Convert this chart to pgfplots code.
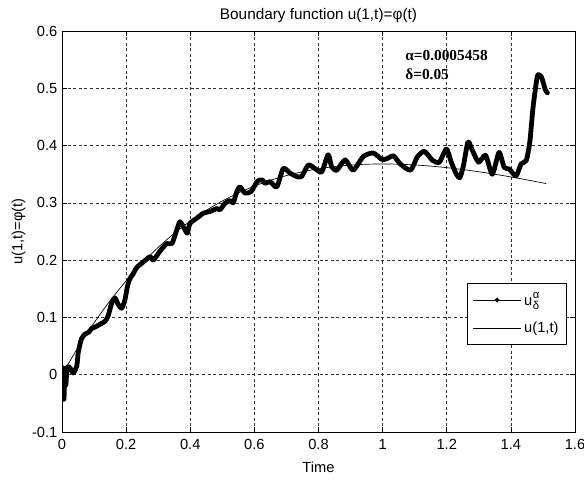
\documentclass[border=0pt]{standalone}
\usepackage{fontspec}
\setmainfont{Liberation Sans}
\newfontfamily\serifb{Liberation Serif}
\usepackage{pgfplots}
\pgfplotsset{compat=1.18}

\begin{document}
\begin{tikzpicture}
\begin{axis}[
  name=ax,
  scale only axis,
  width=384.75pt, height=300.75pt,
  xmin=0, xmax=1.6, ymin=-0.1, ymax=0.6,
  xtick={0,0.2,...,1.6}, ytick={-0.1,0,...,0.6},
  xticklabels={0,0.2,0.4,0.6,0.8,1,1.2,1.4,1.6},
  yticklabels={-0.1,0,0.1,0.2,0.3,0.4,0.5,0.6},
  tick align=inside, tick pos=both, major tick length=4pt,
  grid=major,
  major grid style={black!80, line width=0.5pt, dash pattern=on 2.2pt off 2pt},
  axis line style={line width=0.6pt},
  tick style={line width=0.5pt, black},
  every tick label/.append style={font=\fontsize{11}{13}\selectfont},
  xticklabel style={yshift=-2pt},
  /pgf/number format/assume math mode=true,
  title={Boundary function u(1,t)=φ(t)},
  title style={font=\fontsize{11.5}{13}\selectfont, yshift=-3pt},
  xlabel={Time}, ylabel={u(1,t)=φ(t)},
  label style={font=\fontsize{11}{13}\selectfont},
  xlabel style={yshift=-2pt},
  ylabel style={yshift=-2pt},
  legend style={at={(0.984,0.3716)}, anchor=north east, draw=black, line width=0.5pt,
    font=\fontsize{11}{13}\selectfont, row sep=7pt, inner xsep=4pt, inner ysep=5pt},
  legend cell align=left,
  legend image code/.code={\draw[#1] (0pt,0pt) -- (36pt,0pt);},
]
\addlegendimage{black, line width=0.6pt, legend image code/.code={\draw[black, line width=0.6pt] (0pt,0pt) -- (36pt,0pt); \fill[black] (18pt,0pt) circle (1.4pt);}}
\addlegendentry{u\kern0.3pt\rlap{\raisebox{0.85ex}{\fontsize{8.5}{8}\selectfont α}}\raisebox{-0.55ex}{\fontsize{8.5}{8}\selectfont δ}}
\addlegendimage{black, line width=0.5pt}
\addlegendentry{u(1,t)}
\addplot[black, line width=3.6pt, line join=round, line cap=round, smooth, tension=0.4, forget plot]
coordinates {
(0.003,0.012) (0.006,-0.043) (0.009,0.008) (0.012,-0.018) (0.016,0.013)
(0.025,0.012) (0.035,0.003) (0.046,0.015) (0.051,0.040) (0.061,0.063)
(0.072,0.071) (0.083,0.074) (0.093,0.081) (0.103,0.083) (0.118,0.088)
(0.134,0.093) (0.144,0.103) (0.155,0.125) (0.165,0.134) (0.176,0.122)
(0.186,0.116) (0.196,0.130) (0.204,0.154) (0.212,0.168) (0.222,0.176)
(0.233,0.187) (0.254,0.197) (0.2745,0.206) (0.285,0.200) (0.306,0.216)
(0.327,0.229) (0.343,0.229) (0.358,0.253) (0.368,0.267) (0.3805,0.256)
(0.391,0.247) (0.399,0.264) (0.420,0.273) (0.441,0.282) (0.462,0.285)
(0.4825,0.290) (0.493,0.288) (0.508,0.299) (0.524,0.304) (0.534,0.300)
(0.545,0.319) (0.555,0.328) (0.571,0.317) (0.590,0.320) (0.610,0.338)
(0.625,0.340) (0.633,0.334) (0.649,0.337) (0.670,0.328) (0.690,0.360)
(0.711,0.352) (0.732,0.346) (0.7475,0.346) (0.768,0.366) (0.789,0.360)
(0.810,0.354) (0.830,0.384) (0.841,0.363) (0.857,0.357) (0.883,0.375)
(0.908,0.357) (0.940,0.381) (0.971,0.387) (0.997,0.376) (1.013,0.377)
(1.034,0.382) (1.055,0.368) (1.087,0.357) (1.108,0.380) (1.130,0.390)
(1.156,0.374) (1.177,0.371) (1.199,0.394) (1.214,0.371) (1.230,0.350)
(1.241,0.344) (1.252,0.365) (1.266,0.406) (1.278,0.394) (1.299,0.371)
(1.321,0.383) (1.342,0.350) (1.363,0.388) (1.379,0.362) (1.395,0.359)
(1.416,0.347) (1.432,0.368) (1.448,0.374) (1.459,0.406) (1.469,0.466)
(1.480,0.513) (1.485,0.524) (1.496,0.519) (1.507,0.498) (1.514,0.492)
};
\addplot[black, line width=0.5pt, smooth, forget plot]
coordinates {
(0,0) (0.05,0.04756) (0.1,0.09048) (0.15,0.12911) (0.2,0.16375) (0.25,0.19470)
(0.3,0.22225) (0.35,0.24664) (0.4,0.26813) (0.45,0.28694) (0.5,0.30327)
(0.55,0.31732) (0.6,0.32929) (0.65,0.33933) (0.7,0.34761) (0.75,0.35427)
(0.8,0.35946) (0.85,0.36330) (0.9,0.36591) (0.95,0.36740) (1.0,0.36788)
(1.05,0.36743) (1.1,0.36616) (1.15,0.36413) (1.2,0.36143) (1.25,0.35813)
(1.3,0.35429) (1.35,0.34997) (1.4,0.34524) (1.45,0.34014) (1.5,0.33470)
(1.51,0.33360)
};
\node[anchor=north west, inner sep=0pt, align=left, font=\serifb\bfseries\fontsize{11.5}{14}\selectfont]
  at (axis cs:1.07,0.566) {α=0.0005458\\δ=0.05};
\end{axis}
\pgfresetboundingbox
\path[use as bounding box] ([xshift=-46.5pt,yshift=-36.75pt]ax.south west) rectangle ([xshift=6.75pt,yshift=23.25pt]ax.north east);
\end{tikzpicture}
\end{document}
